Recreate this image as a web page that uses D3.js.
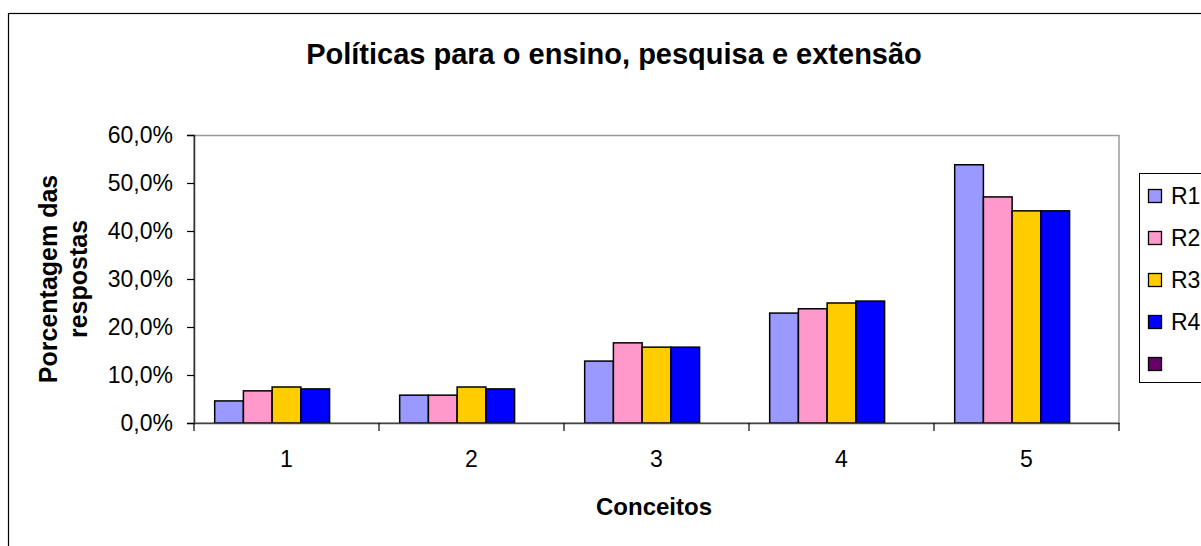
<!DOCTYPE html>
<html>
<head>
<meta charset="utf-8">
<script src="https://cdn.jsdelivr.net/npm/d3@7"></script>
<style>
  html, body { margin: 0; padding: 0; background: #fff; }
  svg { display: block; font-family: "Liberation Sans", Arial, sans-serif; }
</style>
</head>
<body>
<svg id="chart" width="1201" height="546"></svg>
<script>
const categories = ["1", "2", "3", "4", "5"];
const seriesNames = ["R1", "R2", "R3", "R4", ""];
const seriesColors = ["#9999FF", "#FF99CC", "#FFCC00", "#0000FF", "#660066"];
const R1 = [4.6, 5.8, 12.9, 22.9, 53.8];
const R2 = [6.7, 5.8, 16.7, 23.8, 47.1];
const R3 = [7.5, 7.5, 15.8, 25.0, 44.2];
const R4 = [7.1, 7.1, 15.8, 25.4, 44.2];
const R5 = [null, null, null, null, null];
const yTicks = [0, 10, 20, 30, 40, 50, 60];
const titleText = "Políticas para o ensino, pesquisa e extensão";
const yLabelLines = ["Porcentagem das", "respostas"];
const xLabelText = "Conceitos";

const seriesValues = [R1, R2, R3, R4, R5];

const svg = d3.select("#chart");
const plot = { left: 194, right: 1119, top: 135, bottom: 423 };

// outer chart border
svg.append("rect").attr("x", 8.5).attr("y", 13.5).attr("width", 1300).attr("height", 700)
  .attr("fill", "#fff").attr("stroke", "#000").attr("stroke-width", 1.2);

const x0 = d3.scaleBand().domain(categories).range([plot.left, plot.right]).paddingInner(0).paddingOuter(0);
const x1 = d3.scaleBand().domain(d3.range(seriesNames.length)).range([0, x0.bandwidth()])
  .paddingInner(0).paddingOuter(0.72);
const y = d3.scaleLinear().domain([0, 60]).range([plot.bottom, plot.top]);

// plot area frame
svg.append("rect").attr("x", plot.left).attr("y", plot.top + 0.5)
  .attr("width", plot.right - plot.left).attr("height", plot.bottom - plot.top - 0.5)
  .attr("fill", "#fff").attr("stroke", "#9a9a9a").attr("stroke-width", 1.5);

// bars
const groups = svg.append("g").selectAll("g").data(categories).join("g")
  .attr("transform", d => `translate(${x0(d)},0)`);
groups.selectAll("rect")
  .data((c, ci) => seriesValues.map((vals, si) => ({ si, v: vals[ci] })).filter(d => d.v != null))
  .join("rect")
  .attr("x", d => x1(d.si))
  .attr("y", d => y(d.v))
  .attr("width", x1.bandwidth())
  .attr("height", d => y(0) - y(d.v))
  .attr("fill", d => seriesColors[d.si])
  .attr("stroke", "#000").attr("stroke-width", 1.5);

// y axis
const fmt = v => v.toFixed(1).replace(".", ",") + "%";
const yAxis = svg.append("g").attr("transform", `translate(${plot.left},0)`)
  .call(d3.axisLeft(y).tickValues(yTicks).tickFormat(fmt).tickSize(7).tickPadding(14));
yAxis.select(".domain").attr("stroke", "#333").attr("stroke-width", 1.5);
yAxis.selectAll(".tick line").attr("stroke", "#000").attr("stroke-width", 1.2);
yAxis.selectAll("text").attr("font-size", 23).attr("fill", "#000")
  .attr("font-family", "Liberation Sans, Arial, sans-serif");

// x axis
const xAxis = svg.append("g").attr("transform", `translate(0,${plot.bottom})`)
  .call(d3.axisBottom(x0).tickSize(0).tickPadding(28));
xAxis.select(".domain").attr("stroke", "#444").attr("stroke-width", 1.5);
xAxis.selectAll("text").attr("font-size", 23).attr("fill", "#000")
  .attr("font-family", "Liberation Sans, Arial, sans-serif");
// category boundary ticks
const bounds = categories.map(c => x0(c)).concat([plot.right]);
svg.append("g").selectAll("line").data(bounds).join("line")
  .attr("x1", d => d).attr("x2", d => d)
  .attr("y1", plot.bottom).attr("y2", plot.bottom + 8)
  .attr("stroke", "#000").attr("stroke-width", 1.2);

// title
svg.append("text").attr("x", 614).attr("y", 64).attr("text-anchor", "middle")
  .attr("font-size", 29).attr("font-weight", "bold").text(titleText);

// y label
const yl = svg.append("text").attr("transform", `translate(57,${(plot.top + plot.bottom) / 2}) rotate(-90)`)
  .attr("text-anchor", "middle").attr("font-size", 25).attr("font-weight", "bold");
yl.selectAll("tspan").data(yLabelLines).join("tspan")
  .attr("x", 0).attr("dy", (d, i) => i === 0 ? 0 : 30).text(d => d);

// x label
svg.append("text").attr("x", 654).attr("y", 515).attr("text-anchor", "middle")
  .attr("font-size", 24).attr("font-weight", "bold").text(xLabelText);

// legend
const legend = svg.append("g");
legend.append("rect").attr("x", 1139.5).attr("y", 173.5).attr("width", 100).attr("height", 209)
  .attr("fill", "#fff").attr("stroke", "#000").attr("stroke-width", 1);
const items = legend.selectAll("g.item").data(seriesNames).join("g").attr("class", "item")
  .attr("transform", (d, i) => `translate(1148,${196 + i * 42})`);
items.append("rect").attr("x", 0.5).attr("y", -6.5).attr("width", 13).attr("height", 13)
  .attr("fill", (d, i) => seriesColors[i]).attr("stroke", "#000").attr("stroke-width", 1.3);
items.append("text").attr("x", 23).attr("y", 8).attr("font-size", 23).text(d => d);
</script>
</body>
</html>
